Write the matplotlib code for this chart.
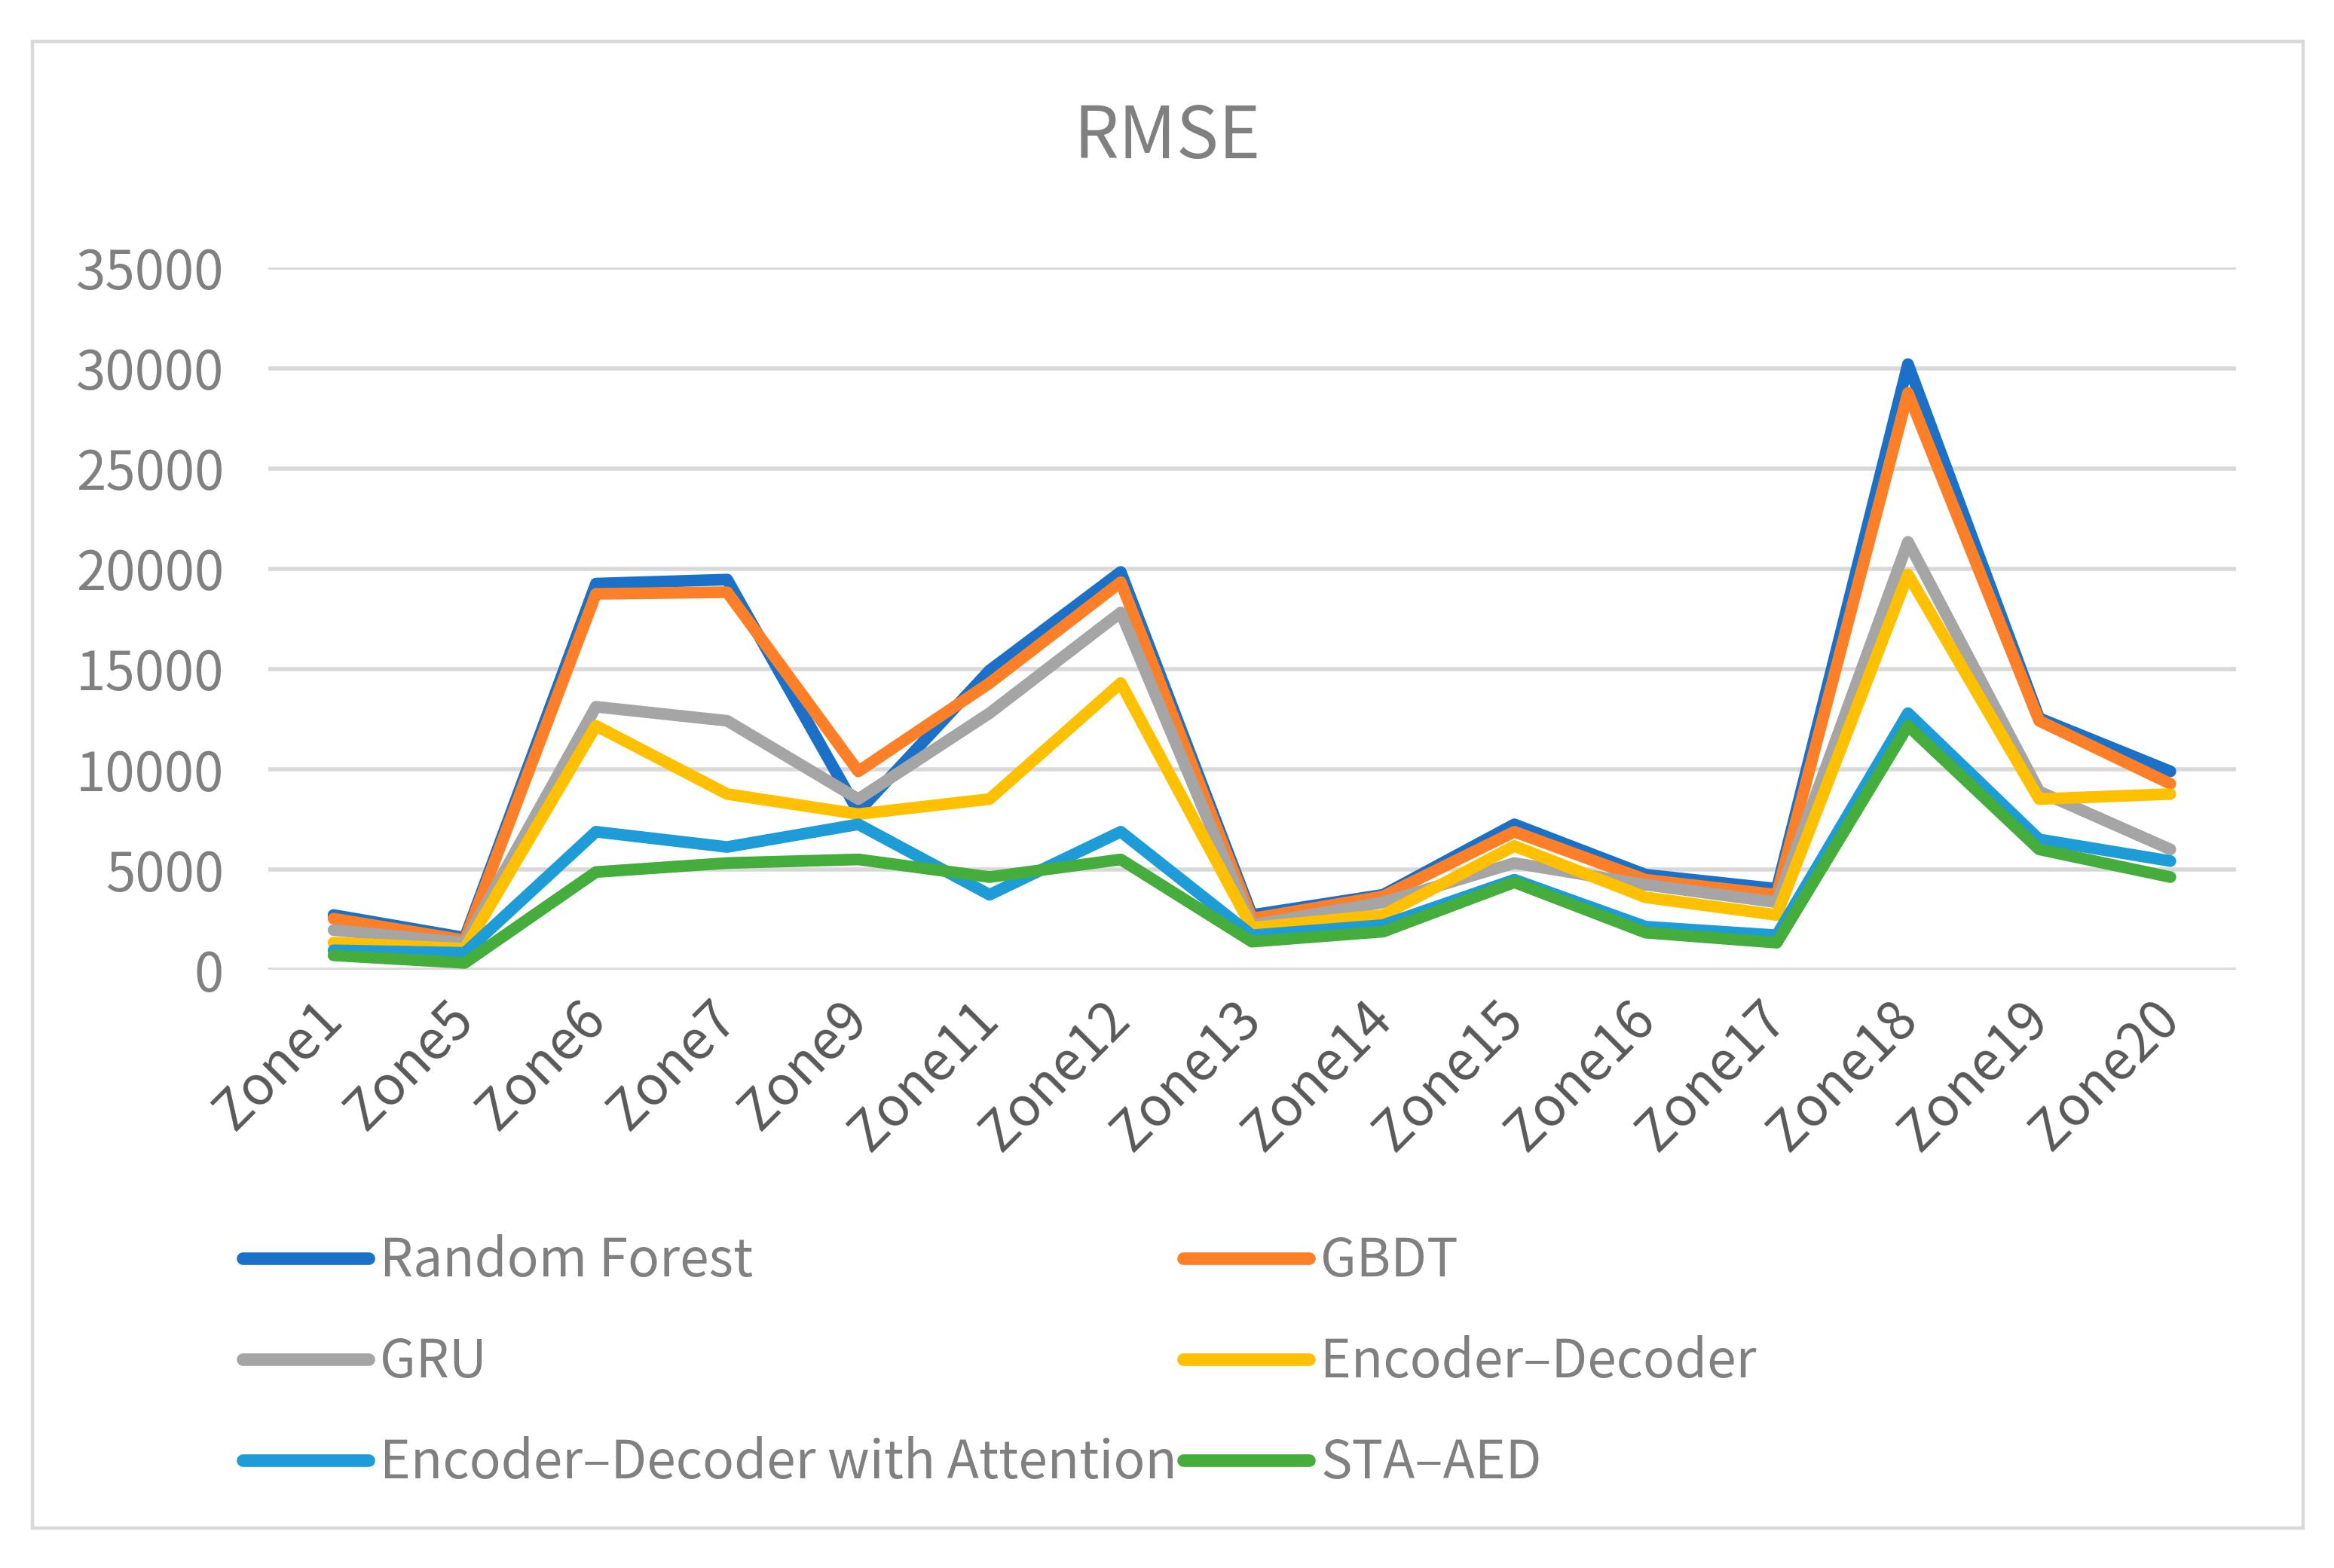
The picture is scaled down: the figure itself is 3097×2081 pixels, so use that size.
import matplotlib
matplotlib.use("Agg")
import matplotlib.pyplot as plt
from matplotlib.patches import Rectangle
from matplotlib.transforms import ScaledTranslation

plt.rcParams['font.family'] = ['Noto Sans CJK SC', 'DejaVu Sans']

zones = ["Zone1", "Zone5", "Zone6", "Zone7", "Zone9", "Zone11", "Zone12", "Zone13",
         "Zone14", "Zone15", "Zone16", "Zone17", "Zone18", "Zone19", "Zone20"]

random_forest = [2740, 1610, 19260, 19460, 7890, 14930, 19840, 2740, 3750, 7260, 4750, 4050, 30200, 12550, 9900]
gbdt = [2560, 1480, 18750, 18830, 9900, 14300, 19330, 2560, 3670, 6890, 4500, 3750, 28760, 12420, 9280]
gru = [1990, 1360, 13120, 12420, 8520, 12800, 17820, 2240, 3370, 5330, 4250, 3370, 21340, 8900, 6010]
enc_dec = [1360, 1060, 12170, 8770, 7770, 8520, 14300, 2110, 2740, 6180, 3620, 2740, 19710, 8520, 8770]
enc_dec_att = [980, 855, 6890, 6130, 7260, 3750, 6890, 1730, 2240, 4500, 2160, 1730, 12800, 6510, 5430]
sta_aed = [730, 350, 4880, 5330, 5510, 4630, 5510, 1410, 1910, 4370, 1860, 1360, 12170, 6010, 4630]

series_names = ["Random Forest", "GBDT", "GRU", "Encoder\u2013Decoder",
                "Encoder\u2013Decoder with Attention", "STA\u2013AED"]
series_values = [random_forest, gbdt, gru, enc_dec, enc_dec_att, sta_aed]
colors = ["#1B71C7", "#FD7F27", "#A5A5A5", "#FFC000", "#1E9CD8", "#44AD3B"]

yticks = [0, 5000, 10000, 15000, 20000, 25000, 30000, 35000]

fig = plt.figure(figsize=(15.485, 10.405), dpi=200)
fig.patch.set_facecolor("white")

ax = fig.add_axes([0.1148, 0.3814, 0.958 - 0.1148, 0.8292 - 0.3814])
x = list(range(len(zones)))
handles = []
for name, vals, c in zip(series_names, series_values, colors):
    (ln,) = ax.plot(x, vals, color=c, linewidth=5.6, solid_capstyle="round",
                    solid_joinstyle="round", label=name)
    handles.append(ln)

ax.set_xlim(-0.5, len(zones) - 0.5)
ax.set_ylim(0, 35000)
ax.set_yticks(yticks)
ax.set_yticklabels([str(v) for v in yticks])
ax.set_xticks(x)
ax.set_xticklabels(zones, rotation=45, ha="right", va="top", rotation_mode="anchor")
ax.grid(axis="y", color="#D9D9D9", linewidth=2.0)
ax.set_axisbelow(True)
for s in ax.spines.values():
    s.set_visible(False)
ax.tick_params(axis="y", length=0, pad=21, labelsize=25.5, labelcolor="#808080")
ax.tick_params(axis="x", length=0, pad=10, labelsize=25.5, labelcolor="#595959")
offset = ScaledTranslation(-9 / 72, 0, fig.dpi_scale_trans)
for lbl in ax.get_xticklabels():
    lbl.set_transform(lbl.get_transform() + offset)

fig.text(0.5, 0.912, "RMSE", ha="center", va="center", fontsize=34, color="#808080")

leg_kw = dict(frameon=False, fontsize=25, labelcolor="#808080", handlelength=2.4,
              handletextpad=0.22, labelspacing=0.9, borderpad=0, borderaxespad=0,
              loc="center left")
leg1 = fig.legend([handles[0], handles[2], handles[4]],
                  [series_names[0], series_names[2], series_names[4]],
                  bbox_to_anchor=(0.104, 0.131), **leg_kw)
leg2 = fig.legend([handles[1], handles[3], handles[5]],
                  [series_names[1], series_names[3], series_names[5]],
                  bbox_to_anchor=(0.507, 0.131), **leg_kw)
for leg in (leg1, leg2):
    for h in leg.legend_handles:
        h.set_linewidth(6.0)
        h.set_solid_capstyle("round")

fig.patches.append(Rectangle((0.0140, 0.0256), 0.9726, 0.9478, transform=fig.transFigure,
                             fill=False, edgecolor="#D9D9D9", linewidth=1.6))

fig.savefig("out.png", dpi=200, facecolor="white")
